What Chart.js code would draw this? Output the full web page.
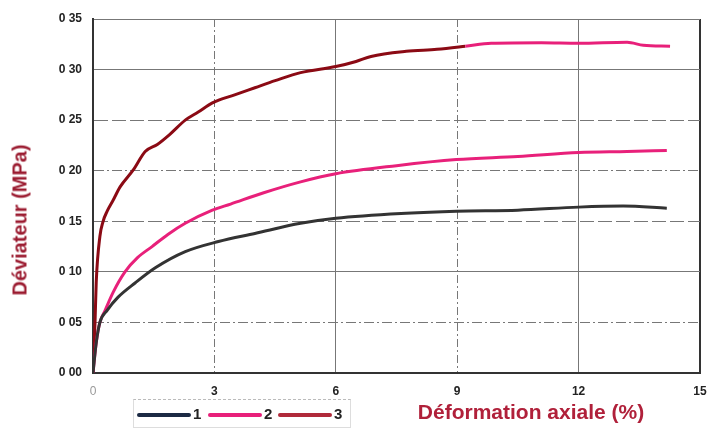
<!DOCTYPE html>
<html>
<head>
<meta charset="utf-8">
<script src="https://cdn.jsdelivr.net/npm/chart.js@4"></script>
<style>
  body { margin: 0; background: #fff; font-family: "Liberation Sans", Arial, sans-serif; overflow: hidden; }
  #wrap { position: relative; width: 710px; height: 430px; }
  canvas { display: block; }
  #ytitle {
    position: absolute; left: 20px; top: 220px;
    transform: translate(-50%, -50%) rotate(-90deg);
    white-space: nowrap; color: #9b1b30; font-weight: bold; font-size: 20px;
  }
  #xtitle {
    position: absolute; left: 531px; top: 412px; transform: translate(-50%, -50%);
    white-space: nowrap; color: #b0203a; font-weight: bold; font-size: 21px;
  }
  #legende {
    position: absolute; left: 133px; top: 399px; width: 216px; height: 27px;
    border: 1px solid #ddd; border-top: 1px dashed #bbb; background: #fff;
  }
  .item { position: absolute; top: 5px; font-size: 15px; font-weight: bold; color: #222; }
  .item span { display: inline-block; width: 54px; height: 4px; vertical-align: middle; margin-right: 2px; border-radius: 2px; }
</style>
</head>
<body>
<div id="wrap">
  <canvas id="myChart" width="710" height="430"></canvas>
  <div id="ytitle">Déviateur (MPa)</div>
  <div id="xtitle">Déformation axiale (%)</div>
  <div id="legende">
    <div class="item" style="left:3px"><span style="background:#1c2a44"></span>1</div>
    <div class="item" style="left:74px"><span style="background:#e8207a"></span>2</div>
    <div class="item" style="left:144px"><span style="background:#b02a3a"></span>3</div>
  </div>
</div>
<script>
// essais 1, 2, 3 : déformation axiale (%) / déviateur (MPa)
const def1 = [0, 0.08, 0.17, 0.35, 0.62, 1.04, 1.54, 2.28, 3.1, 4.0, 5.13, 6.0, 7.74, 8.98, 10.5, 12.0, 13.1, 14.18];
const dev1 = [0, 0.03, 0.05, 0.062, 0.075, 0.089, 0.104, 0.120, 0.130, 0.138, 0.148, 0.153, 0.158, 0.160, 0.161, 0.164, 0.165, 0.163];

const def2 = [0, 0.08, 0.17, 0.3, 0.5, 0.79, 1.1, 1.46, 1.85, 2.28, 2.95, 3.4, 4.2, 5.13, 6.0, 7.5, 8.98, 10.5, 12.0, 13.2, 14.18];
const dev2 = [0, 0.03, 0.05, 0.062, 0.080, 0.100, 0.114, 0.125, 0.137, 0.148, 0.161, 0.167, 0.178, 0.189, 0.197, 0.205, 0.211, 0.214, 0.218, 0.219, 0.220];

const def3 = [0, 0.03, 0.05, 0.08, 0.17, 0.25, 0.35, 0.5, 0.67, 1.0, 1.29, 1.59, 1.9, 2.28, 2.6, 2.95, 3.5, 4.0, 4.5, 5.13, 6.0, 6.5, 6.87, 7.74, 8.5, 9.2, 9.84, 11.08, 12.0, 13.2, 13.6, 14.26];
const dev3 = [0, 0.03, 0.05, 0.09, 0.135, 0.15, 0.16, 0.171, 0.184, 0.201, 0.219, 0.226, 0.236, 0.250, 0.258, 0.267, 0.275, 0.282, 0.289, 0.297, 0.303, 0.308, 0.313, 0.318, 0.320, 0.323, 0.326, 0.3265, 0.326, 0.327, 0.324, 0.323];

const xTicks = [0, 3, 6, 9, 12, 15];
const yTicks = [0, 0.05, 0.10, 0.15, 0.20, 0.25, 0.30, 0.35];

const pts = (xs, ys) => xs.map((x, i) => ({ x: x, y: ys[i] }));

// motifs des lignes de grille
const hDash = { 0.05: [10, 3, 2, 3], 0.15: [14, 4], 0.2: [10, 3, 2, 3], 0.25: [14, 4] };
const vDash = { 3: [8, 3, 2, 3], 9: [8, 3, 2, 3] };
const tickVal = c => (c && c.tick ? c.tick.value : null);

new Chart("myChart", {
  type: "line",
  data: {
    datasets: [
      { label: "1", data: pts(def1, dev1), borderColor: "#333333" },
      { label: "2", data: pts(def2, dev2), borderColor: "#e8207a" },
      {
        label: "3", data: pts(def3, dev3), borderColor: "#8b0a14",
        segment: { borderColor: c => c.p0.parsed.x >= 9.2 ? "#e8207a" : "#8b0a14" }
      }
    ]
  },
  options: {
    responsive: false,
    animation: false,
    layout: { padding: { top: 19, right: 10, left: 0, bottom: 0 } },
    elements: {
      point: { radius: 0 },
      line: { borderWidth: 3, cubicInterpolationMode: "monotone" }
    },
    plugins: { legend: { display: false }, tooltip: { enabled: false } },
    scales: {
      x: {
        type: "linear", min: 0, max: 15,
        afterBuildTicks: s => { s.ticks = xTicks.map(v => ({ value: v })); },
        afterFit: s => { s.height = 57; s.paddingLeft = 0; s.paddingRight = 0; },
        grid: {
          color: c => tickVal(c) === 15 ? "#333" : "#777",
          lineWidth: c => tickVal(c) === 15 ? 2 : 1,
          drawTicks: false
        },
        border: { color: "#333", width: 2, dash: c => vDash[tickVal(c)] || [] },
        ticks: {
          padding: 11,
          color: c => tickVal(c) === 0 ? "#999" : "#222",
          font: c => ({ family: "Liberation Sans", size: 12, weight: tickVal(c) === 0 ? "normal" : "bold" })
        }
      },
      y: {
        min: 0, max: 0.35,
        afterBuildTicks: s => { s.ticks = yTicks.map(v => ({ value: v })); },
        afterFit: s => { s.width = 93; s.paddingTop = 0; s.paddingBottom = 0; },
        grid: { color: "#777", lineWidth: 1, drawTicks: false },
        border: { color: "#333", width: 2, dash: c => hDash[tickVal(c) === null ? -1 : Math.round(tickVal(c) * 100) / 100] || [] },
        ticks: {
          padding: 11,
          color: "#222",
          font: { family: "Liberation Sans", size: 12, weight: "bold" },
          callback: v => v.toFixed(2).replace(".", " ")
        }
      }
    }
  }
});
</script>
</body>
</html>
